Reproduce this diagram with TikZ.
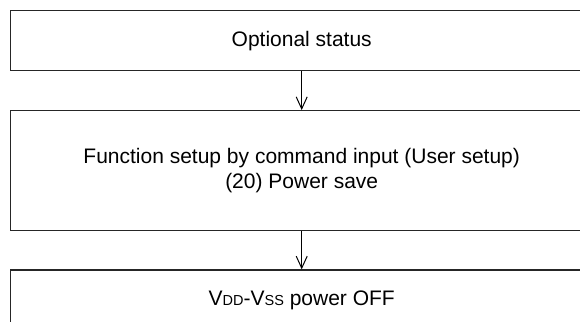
\documentclass[tikz,border=0pt]{standalone}
\usepackage{fontspec}
\setmainfont{Liberation Sans}
\usetikzlibrary{arrows.meta}
\newcommand{\lowcaps}[1]{{\fontsize{14.5}{15}\selectfont #1}}
\begin{document}
\begin{tikzpicture}[x=1pt,y=-1pt,
box/.style={
	rectangle,minimum width=582pt,inner sep=0pt,
	draw=black!85,line width=1.3pt,align=center,
	font=\fontsize{21}{25.5}\selectfont},
flow/.style={draw=black,line width=1pt,-{Straight Barb[length=12pt,width=11pt]}}
]
\useasboundingbox (0,0) rectangle (580,321);
\clip (0,0) rectangle (580,321);
\node[box,minimum height=60pt] (status) at (301.7,40.7) {Optional status};
\node[box,minimum height=120pt] (setup) at (301.7,170.7) {Function setup by command input (User setup)\\(20) Power save};
\node[box,minimum height=60pt] (poweroff) at (301.7,300) {V\lowcaps{DD}-V\lowcaps{SS} power OFF};
\draw[flow] (status.south) -- (setup.north);
\draw[flow] (setup.south) -- (poweroff.north);
\end{tikzpicture}
\end{document}
